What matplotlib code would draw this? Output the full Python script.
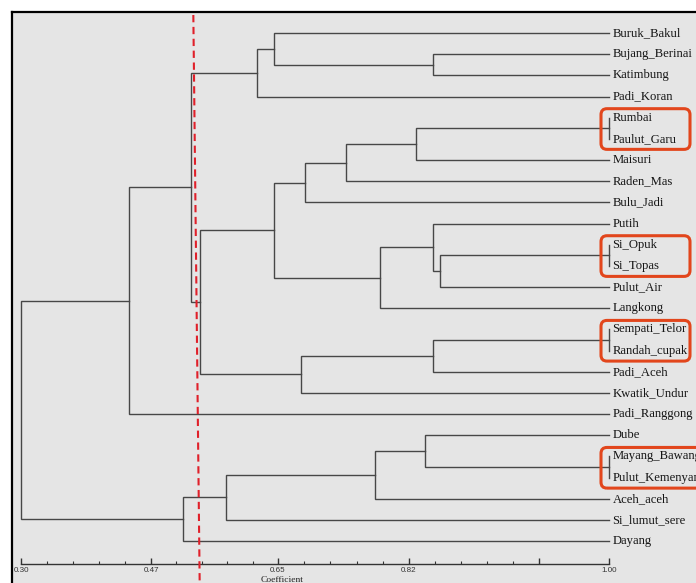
import numpy as np
import matplotlib
matplotlib.use("Agg")
import matplotlib.pyplot as plt
from matplotlib.patches import FancyBboxPatch
from matplotlib.transforms import IdentityTransform

# leaves, in the order they appear top -> bottom
varietas = [
    "Buruk_Bakul", "Bujang_Berinai", "Katimbung", "Padi_Koran", "Rumbai",
    "Paulut_Garu", "Maisuri", "Raden_Mas", "Bulu_Jadi", "Putih",
    "Si_Opuk", "Si_Topas", "Pulut_Air", "Langkong", "Sempati_Telor",
    "Randah_cupak", "Padi_Aceh", "Kwatik_Undur", "Padi_Ranggong", "Dube",
    "Mayang_Bawang", "Pulut_Kemenyan", "Aceh_aceh", "Si_lumut_sere", "Dayang",
]

# merges: (child a, child b, similarity coefficient); new nodes get ids 25, 26, ...
gabung_a = [4, 10, 14, 20, 26, 9, 1, 27, 19, 25, 30, 33, 34, 37, 32, 0, 38, 40, 36, 41, 42, 43, 45, 47]
gabung_b = [5, 11, 15, 21, 12, 29, 2, 16, 28, 6, 13, 22, 7, 8, 17, 31, 35, 3, 23, 39, 44, 24, 18, 46]
koefisien = [1.00, 1.00, 1.00, 1.00, 0.848, 0.842, 0.842, 0.842, 0.834, 0.826, 0.782, 0.776,
             0.738, 0.685, 0.680, 0.644, 0.644, 0.620, 0.577, 0.540, 0.526, 0.516, 0.441, 0.30]

# pairs marked with a red box (identical accessions)
pasangan = [("Rumbai", "Paulut_Garu"), ("Si_Opuk", "Si_Topas"),
            ("Sempati_Telor", "Randah_cupak"), ("Mayang_Bawang", "Pulut_Kemenyan")]

garis_potong = (0.530, 0.539)  # dashed cut line (slightly slanted in the scan)

tick_utama = [0.30, 0.47, 0.65, 0.82, 1.00]
tick_label = ["0.30", "0.47", "0.65", "0.82", "1.00"]

# the printed axis is not evenly spaced, so map the labelled values piecewise
nilai_knot = [-1.0, 0.30, 0.47, 0.65, 0.82, 1.00, 2.0]
skala_knot = [-973.0, 21.0, 151.0, 278.0, 409.0, 609.0, 1720.0]


def maju(x):
    return np.interp(x, nilai_knot, skala_knot)


def balik(y):
    return np.interp(y, skala_knot, nilai_knot)


W, H = 696, 583
fig = plt.figure(figsize=(W / 100, H / 100), dpi=100)
fig.patch.set_facecolor("white")

# grey panel with black frame, running off the right and bottom edges
ax_bg = fig.add_axes([12 / W, -0.05, 1.0, 1 - 12 / H + 0.05])
ax_bg.set_facecolor("#e5e5e5")
ax_bg.set_xticks([])
ax_bg.set_yticks([])
for s in ax_bg.spines.values():
    s.set_color("black")
    s.set_linewidth(1.6)

ax = fig.add_axes([21 / W, 1 - 564 / H, 588 / W, (564 - 15) / H])
ax.patch.set_alpha(0)
ax.set_xscale("function", functions=(maju, balik))
ax.set_xlim(0.30, 1.00)
ax.set_ylim(25.08, -0.85)
for s in ["left", "right", "top"]:
    ax.spines[s].set_visible(False)
ax.spines["bottom"].set_color("#333333")
ax.spines["bottom"].set_linewidth(1.0)
ax.set_yticks([])

warna_garis = "#474747"
posisi = {i: (1.00, float(i)) for i in range(len(varietas))}
for k, (a, b, v) in enumerate(zip(gabung_a, gabung_b, koefisien)):
    xa, ya = posisi[a]
    xb, yb = posisi[b]
    ax.plot([xa, v, v, xb], [ya, ya, yb, yb], color=warna_garis, lw=1.0,
            solid_joinstyle="miter", clip_on=False)
    posisi[len(varietas) + k] = (v, (ya + yb) / 2)

for i, nama in enumerate(varietas):
    ax.annotate(nama, xy=(1.00, i), xytext=(2.5, 0), textcoords="offset points",
                ha="left", va="center", fontsize=9.1, family="Liberation Serif",
                color="#151515", annotation_clip=False)

# x axis like NTSYS: ticks pointing up from the base line
minor = []
for a, b in zip(tick_utama[:3], tick_utama[1:4]):
    minor += list(np.linspace(a, b, 6)[1:-1])
minor += [0.82 + 0.0234 * k for k in range(1, 5)]
ax.set_xticks(tick_utama + [0.937])
ax.set_xticklabels(tick_label + [""])
ax.set_xticks(minor, minor=True)
ax.tick_params(axis="x", which="major", direction="in", length=4, width=1.0,
               labelsize=5.8, pad=2, colors="#333333")
ax.tick_params(axis="x", which="minor", direction="in", length=2.3, width=0.8,
               colors="#333333")
for t in ax.get_xticklabels():
    t.set_family("Liberation Sans")
ax.text(0.444, -0.022, "Coefficient", transform=ax.transAxes, ha="center", va="top",
        fontsize=6.8, family="Liberation Serif", color="#222222")

# red dashed cut-off line, crosses the axis down to the bottom edge
ax.plot([garis_potong[0], garis_potong[1]], [-0.85, 26.0], color="#e0202a",
        lw=1.5, linestyle=(0, (3.5, 2.2)), clip_on=False, zorder=5)

# red rounded boxes round the identical pairs
fig.canvas.draw()
for atas, bawah in pasangan:
    x0, y0 = ax.transData.transform((1.00, varietas.index(atas)))
    _, y1 = ax.transData.transform((1.00, varietas.index(bawah)))
    lebar = 95 if bawah == "Pulut_Kemenyan" else 81
    kotak = FancyBboxPatch((x0 - 4, y1 - 6.5), lebar, (y0 - y1) + 11.5,
                           boxstyle="round,pad=4,rounding_size=6",
                           transform=IdentityTransform(), fill=False,
                           edgecolor="#e2461c", lw=2.2, zorder=6)
    fig.add_artist(kotak)

fig.savefig("out.png", dpi=100)
